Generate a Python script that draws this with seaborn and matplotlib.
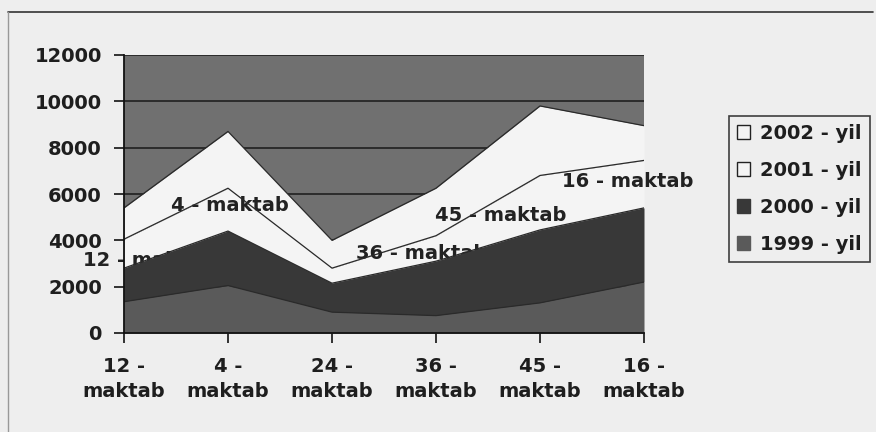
import matplotlib
matplotlib.use("Agg")
import matplotlib.pyplot as plt
from matplotlib.patches import Patch
from matplotlib.lines import Line2D
import numpy as np
import pandas as pd
import seaborn as sns

# Pupils per school, by year (stacked)
schools = ["12 - maktab", "4 - maktab", "24 - maktab", "36 - maktab", "45 - maktab", "16 - maktab"]
years = ["1999 - yil", "2000 - yil", "2001 - yil", "2002 - yil"]
y1999 = [1350, 2050, 900, 750, 1300, 2200]
y2000 = [1450, 2350, 1250, 2350, 3150, 3200]
y2001 = [1250, 1850, 650, 1100, 2350, 2050]
y2002 = [1350, 2450, 1200, 2050, 3000, 1500]
y_ticks = [0, 2000, 4000, 6000, 8000, 10000, 12000]

# Category labels written on the 2001 band (24 - maktab has none)
band_labels = ["12 - maktab", "4 - maktab", "36 - maktab", "45 - maktab", "16 - maktab"]
# offsets of those labels from the band middle, in points
label_offsets = {"12 - maktab": (18, -5), "4 - maktab": (1, 3),
                 "36 - maktab": (-10, -4), "45 - maktab": (-28, -9),
                 "16 - maktab": (-12, 2)}

sns.set_theme(style="white")
plt.rcParams["font.family"] = ["DejaVu Sans"]
plt.rcParams["font.weight"] = "bold"

PAGE = "#eeeeee"
BG = "#707070"
C1999 = "#5a5a5a"
C2000 = "#383838"
CWHITE = "#f4f4f4"
EDGE = "#2a2a2a"

fig = plt.figure(figsize=(8.76, 4.32), dpi=100, facecolor=PAGE)
ax = fig.add_axes([124 / 876, 1 - 333 / 432, 520 / 876, 278 / 432])
ax.set_facecolor(BG)

x = np.arange(len(schools))
df = pd.DataFrame({"school": schools, "1999": y1999, "2000": y2000,
                   "2001": y2001, "2002": y2002})
c1 = df["1999"].to_numpy()
c2 = c1 + df["2000"].to_numpy()
c3 = c2 + df["2001"].to_numpy()
c4 = c3 + df["2002"].to_numpy()

# horizontal gridlines sit under the areas
for t in y_ticks[1:]:
    ax.axhline(t, color="#262626", lw=1.3, zorder=0.5)

# light bands for 2002 and 2001
ax.fill_between(x, c3, c4, color=CWHITE, lw=0, zorder=1)
ax.fill_between(x, c2, c3, color=CWHITE, lw=0, zorder=1)

# school names on the 2001 band
mid = (c2 + c3) / 2
for name in band_labels:
    i = schools.index(name)
    dx, dy = label_offsets[name]
    ax.annotate(name, xy=(x[i], mid[i]), xytext=(dx, dy), textcoords="offset points",
                ha="center", va="center", fontsize=14, fontweight="bold",
                color="#222222", zorder=2, annotation_clip=False)

# darker bands for 2000 and 1999 drawn on top
ax.fill_between(x, c1, c2, color=C2000, lw=0, zorder=3)
ax.fill_between(x, 0, c1, color=C1999, lw=0, zorder=3)

# band outlines
for cum in (c1, c2, c3, c4):
    sns.lineplot(x=x, y=cum, ax=ax, color=EDGE, lw=0.9, zorder=4, legend=False)

ax.set_xlim(0, len(schools) - 1)
ax.set_ylim(0, 12000)
ax.set_yticks(y_ticks)
ax.set_yticklabels([str(t) for t in y_ticks])
ax.set_xticks(x)
ax.set_xticklabels([s.replace(" - ", " -\n") for s in schools], linespacing=1.45)

for lab in ax.get_xticklabels() + ax.get_yticklabels():
    lab.set_fontsize(14)
    lab.set_fontweight("bold")
    lab.set_color("#1e1e1e")

ax.tick_params(axis="both", direction="out", length=7, width=1.2, color="#111111",
               left=True, bottom=True)
ax.tick_params(axis="y", pad=9)
ax.tick_params(axis="x", pad=10)
for side in ("top", "right"):
    ax.spines[side].set_visible(False)
for side in ("left", "bottom"):
    ax.spines[side].set_color("#111111")
    ax.spines[side].set_linewidth(1.3)
    ax.spines[side].set_zorder(5)

handles = [
    Patch(facecolor=CWHITE, edgecolor="#222222", lw=1.0, label=years[3]),
    Patch(facecolor=CWHITE, edgecolor="#222222", lw=1.0, label=years[2]),
    Patch(facecolor=C2000, edgecolor=C2000, lw=1.0, label=years[1]),
    Patch(facecolor=C1999, edgecolor=C1999, lw=1.0, label=years[0]),
]
leg = fig.legend(handles=handles, loc="upper left",
                 bbox_to_anchor=(729 / 876, 1 - 116 / 432), bbox_transform=fig.transFigure,
                 borderaxespad=0, frameon=True, fancybox=False,
                 prop={"size": 14, "weight": "bold"},
                 handlelength=0.7, handleheight=0.7, handletextpad=0.5,
                 labelspacing=0.93, borderpad=0.4)
leg.get_frame().set_edgecolor("#111111")
leg.get_frame().set_linewidth(1.2)
leg.get_frame().set_facecolor(PAGE)
for t in leg.get_texts():
    t.set_color("#1e1e1e")

# outer frame of the chart object
fig.add_artist(Line2D([8 / 876, 873 / 876], [1 - 12 / 432, 1 - 12 / 432],
                      transform=fig.transFigure, color="#333333", lw=1.2))
fig.add_artist(Line2D([8 / 876, 8 / 876], [1 - 12 / 432, 0],
                      transform=fig.transFigure, color="#999999", lw=1.0))

fig.savefig("out.png", dpi=100, facecolor=PAGE)
